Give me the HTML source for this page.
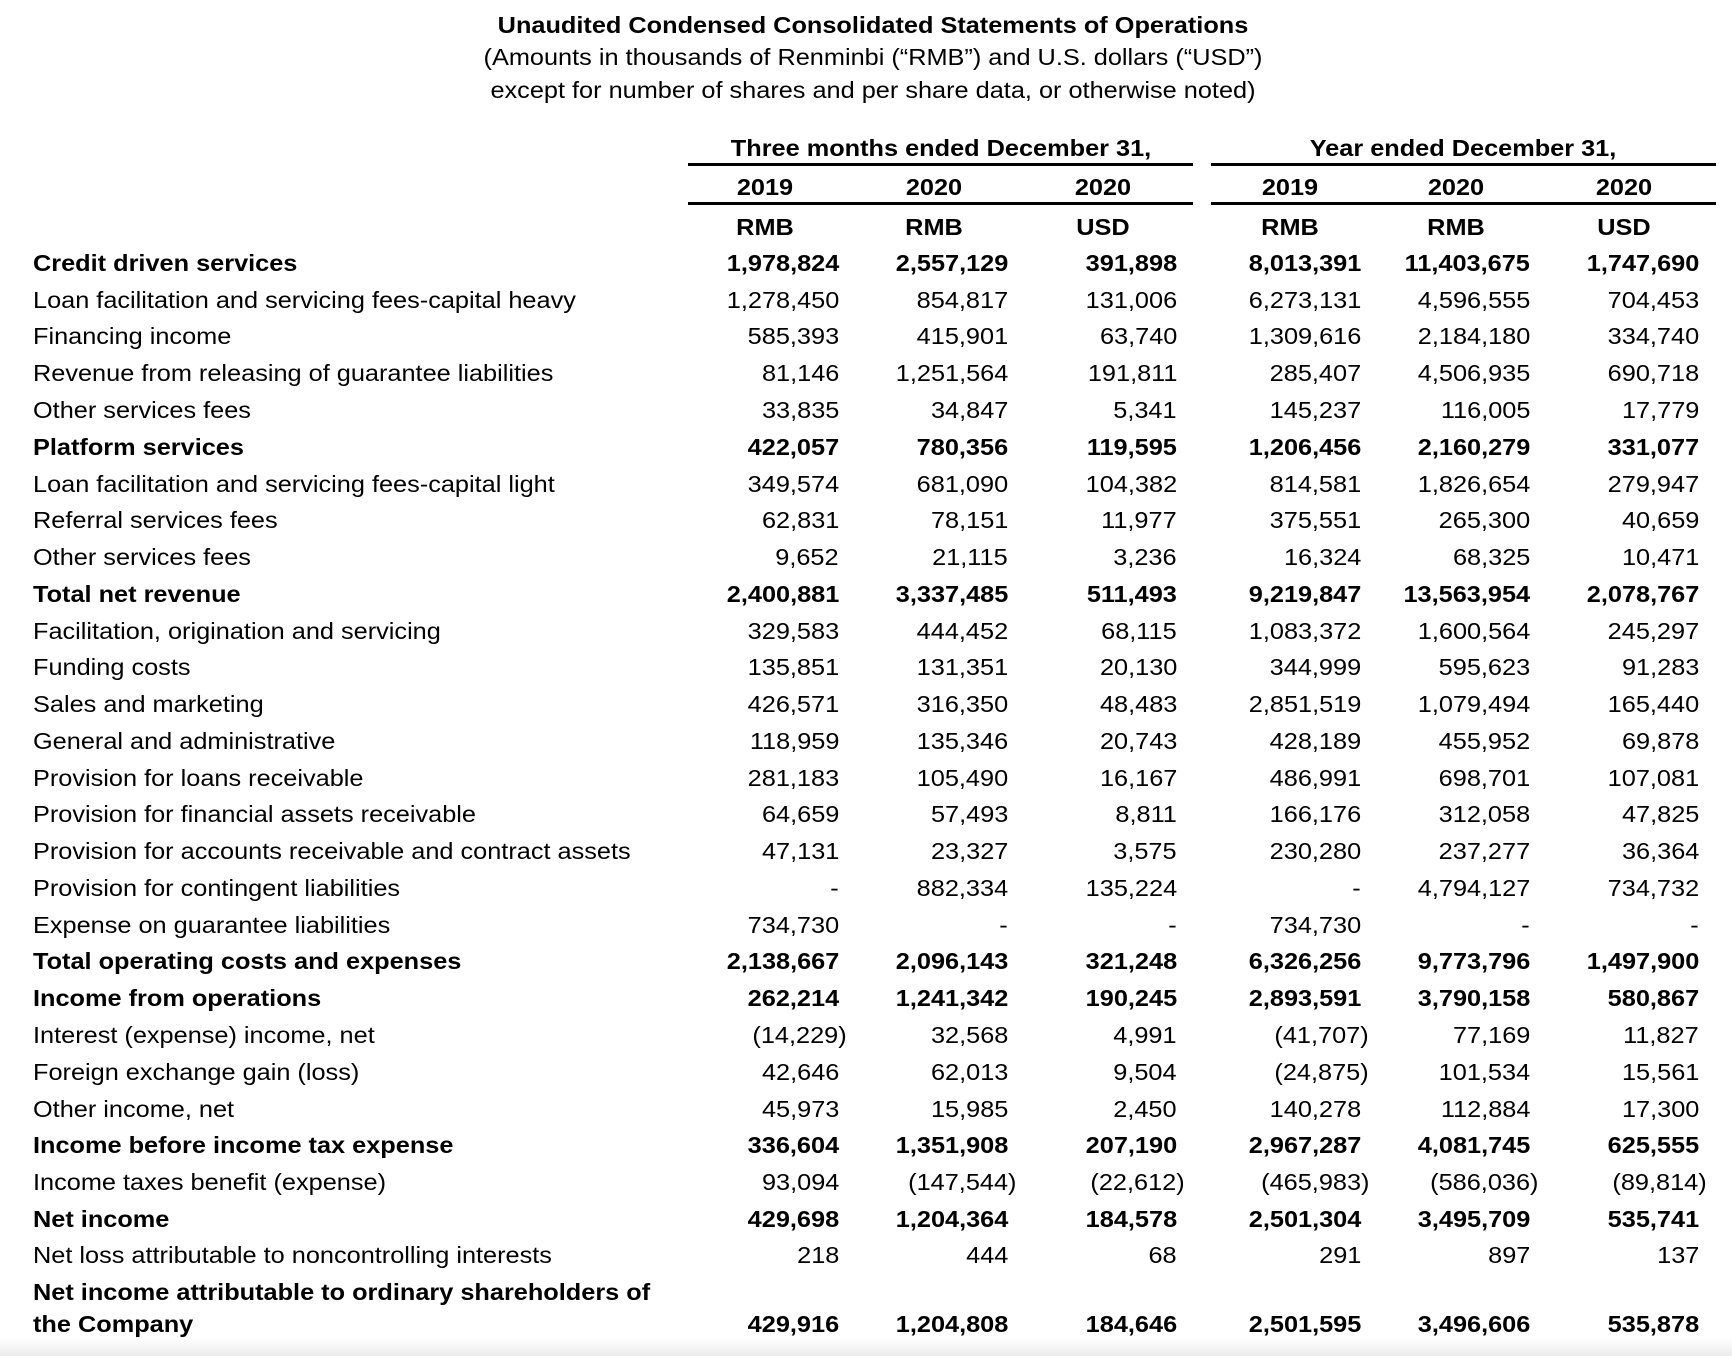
<!DOCTYPE html>
<html><head><meta charset="utf-8"><style>
body{margin:0;width:1732px;height:1356px;background:#fff;position:relative;overflow:hidden;font-family:"Liberation Sans",Arial,sans-serif;color:#000;}
.t{position:absolute;left:0;width:1746px;text-align:center;font-size:23px;line-height:30px;transform:scaleX(1.1);transform-origin:873px 0;}
.r{position:absolute;left:0;width:1732px;height:30px;line-height:30px;font-size:23px;}
.r span{position:absolute;white-space:nowrap;transform:scaleX(1.1);transform-origin:right center;}
.r span.l{transform-origin:left center;}
.l{left:33px;}
.c1{right:893px}.c2{right:724px}.c3{right:555px}.c4{right:371px}.c5{right:202px}.c6{right:33px}
.b{font-weight:bold;}
.p{margin-right:-8px;}
.h{position:absolute;font-size:23px;line-height:30px;font-weight:bold;text-align:center;width:200px;transform:scaleX(1.1);}
.ln{position:absolute;height:2.5px;background:#000;}
.g{position:absolute;left:0;top:1338px;width:1732px;height:18px;background:linear-gradient(#fff,#ececec);}
</style></head><body>
<div class="t b" style="top:10px">Unaudited Condensed Consolidated Statements of Operations</div>
<div class="t" style="top:42px">(Amounts in thousands of Renminbi (“RMB”) and U.S. dollars (“USD”)</div>
<div class="t" style="top:75px">except for number of shares and per share data, or otherwise noted)</div>

<div class="h" style="left:691px;width:500px;top:133px">Three months ended December 31,</div>
<div class="h" style="left:1213px;width:500px;top:133px">Year ended December 31,</div>
<div class="ln" style="left:688px;width:505px;top:163px"></div>
<div class="ln" style="left:1211px;width:505px;top:163px"></div>
<div class="h" style="left:665px;top:172px">2019</div>
<div class="h" style="left:834px;top:172px">2020</div>
<div class="h" style="left:1003px;top:172px">2020</div>
<div class="h" style="left:1190px;top:172px">2019</div>
<div class="h" style="left:1356px;top:172px">2020</div>
<div class="h" style="left:1524px;top:172px">2020</div>
<div class="ln" style="left:688px;width:505px;top:202px"></div>
<div class="ln" style="left:1211px;width:505px;top:202px"></div>
<div class="h" style="left:665px;top:212px">RMB</div>
<div class="h" style="left:834px;top:212px">RMB</div>
<div class="h" style="left:1003px;top:212px">USD</div>
<div class="h" style="left:1190px;top:212px">RMB</div>
<div class="h" style="left:1356px;top:212px">RMB</div>
<div class="h" style="left:1524px;top:212px">USD</div>

<div class="r b" style="top:248px"><span class="l">Credit driven services</span><span class="c1">1,978,824</span><span class="c2">2,557,129</span><span class="c3">391,898</span><span class="c4">8,013,391</span><span class="c5">11,403,675</span><span class="c6">1,747,690</span></div>
<div class="r" style="top:285px"><span class="l">Loan facilitation and servicing fees-capital heavy</span><span class="c1">1,278,450</span><span class="c2">854,817</span><span class="c3">131,006</span><span class="c4">6,273,131</span><span class="c5">4,596,555</span><span class="c6">704,453</span></div>
<div class="r" style="top:321px"><span class="l">Financing income</span><span class="c1">585,393</span><span class="c2">415,901</span><span class="c3">63,740</span><span class="c4">1,309,616</span><span class="c5">2,184,180</span><span class="c6">334,740</span></div>
<div class="r" style="top:358px"><span class="l">Revenue from releasing of guarantee liabilities</span><span class="c1">81,146</span><span class="c2">1,251,564</span><span class="c3">191,811</span><span class="c4">285,407</span><span class="c5">4,506,935</span><span class="c6">690,718</span></div>
<div class="r" style="top:395px"><span class="l">Other services fees</span><span class="c1">33,835</span><span class="c2">34,847</span><span class="c3">5,341</span><span class="c4">145,237</span><span class="c5">116,005</span><span class="c6">17,779</span></div>
<div class="r b" style="top:432px"><span class="l">Platform services</span><span class="c1">422,057</span><span class="c2">780,356</span><span class="c3">119,595</span><span class="c4">1,206,456</span><span class="c5">2,160,279</span><span class="c6">331,077</span></div>
<div class="r" style="top:469px"><span class="l">Loan facilitation and servicing fees-capital light</span><span class="c1">349,574</span><span class="c2">681,090</span><span class="c3">104,382</span><span class="c4">814,581</span><span class="c5">1,826,654</span><span class="c6">279,947</span></div>
<div class="r" style="top:505px"><span class="l">Referral services fees</span><span class="c1">62,831</span><span class="c2">78,151</span><span class="c3">11,977</span><span class="c4">375,551</span><span class="c5">265,300</span><span class="c6">40,659</span></div>
<div class="r" style="top:542px"><span class="l">Other services fees</span><span class="c1">9,652</span><span class="c2">21,115</span><span class="c3">3,236</span><span class="c4">16,324</span><span class="c5">68,325</span><span class="c6">10,471</span></div>
<div class="r b" style="top:579px"><span class="l">Total net revenue</span><span class="c1">2,400,881</span><span class="c2">3,337,485</span><span class="c3">511,493</span><span class="c4">9,219,847</span><span class="c5">13,563,954</span><span class="c6">2,078,767</span></div>
<div class="r" style="top:616px"><span class="l">Facilitation, origination and servicing</span><span class="c1">329,583</span><span class="c2">444,452</span><span class="c3">68,115</span><span class="c4">1,083,372</span><span class="c5">1,600,564</span><span class="c6">245,297</span></div>
<div class="r" style="top:652px"><span class="l">Funding costs</span><span class="c1">135,851</span><span class="c2">131,351</span><span class="c3">20,130</span><span class="c4">344,999</span><span class="c5">595,623</span><span class="c6">91,283</span></div>
<div class="r" style="top:689px"><span class="l">Sales and marketing</span><span class="c1">426,571</span><span class="c2">316,350</span><span class="c3">48,483</span><span class="c4">2,851,519</span><span class="c5">1,079,494</span><span class="c6">165,440</span></div>
<div class="r" style="top:726px"><span class="l">General and administrative</span><span class="c1">118,959</span><span class="c2">135,346</span><span class="c3">20,743</span><span class="c4">428,189</span><span class="c5">455,952</span><span class="c6">69,878</span></div>
<div class="r" style="top:763px"><span class="l">Provision for loans receivable</span><span class="c1">281,183</span><span class="c2">105,490</span><span class="c3">16,167</span><span class="c4">486,991</span><span class="c5">698,701</span><span class="c6">107,081</span></div>
<div class="r" style="top:799px"><span class="l">Provision for financial assets receivable</span><span class="c1">64,659</span><span class="c2">57,493</span><span class="c3">8,811</span><span class="c4">166,176</span><span class="c5">312,058</span><span class="c6">47,825</span></div>
<div class="r" style="top:836px"><span class="l">Provision for accounts receivable and contract assets</span><span class="c1">47,131</span><span class="c2">23,327</span><span class="c3">3,575</span><span class="c4">230,280</span><span class="c5">237,277</span><span class="c6">36,364</span></div>
<div class="r" style="top:873px"><span class="l">Provision for contingent liabilities</span><span class="c1">-</span><span class="c2">882,334</span><span class="c3">135,224</span><span class="c4">-</span><span class="c5">4,794,127</span><span class="c6">734,732</span></div>
<div class="r" style="top:910px"><span class="l">Expense on guarantee liabilities</span><span class="c1">734,730</span><span class="c2">-</span><span class="c3">-</span><span class="c4">734,730</span><span class="c5">-</span><span class="c6">-</span></div>
<div class="r b" style="top:946px"><span class="l">Total operating costs and expenses</span><span class="c1">2,138,667</span><span class="c2">2,096,143</span><span class="c3">321,248</span><span class="c4">6,326,256</span><span class="c5">9,773,796</span><span class="c6">1,497,900</span></div>
<div class="r b" style="top:983px"><span class="l">Income from operations</span><span class="c1">262,214</span><span class="c2">1,241,342</span><span class="c3">190,245</span><span class="c4">2,893,591</span><span class="c5">3,790,158</span><span class="c6">580,867</span></div>
<div class="r" style="top:1020px"><span class="l">Interest (expense) income, net</span><span class="c1 p">(14,229)</span><span class="c2">32,568</span><span class="c3">4,991</span><span class="c4 p">(41,707)</span><span class="c5">77,169</span><span class="c6">11,827</span></div>
<div class="r" style="top:1057px"><span class="l">Foreign exchange gain (loss)</span><span class="c1">42,646</span><span class="c2">62,013</span><span class="c3">9,504</span><span class="c4 p">(24,875)</span><span class="c5">101,534</span><span class="c6">15,561</span></div>
<div class="r" style="top:1094px"><span class="l">Other income, net</span><span class="c1">45,973</span><span class="c2">15,985</span><span class="c3">2,450</span><span class="c4">140,278</span><span class="c5">112,884</span><span class="c6">17,300</span></div>
<div class="r b" style="top:1130px"><span class="l">Income before income tax expense</span><span class="c1">336,604</span><span class="c2">1,351,908</span><span class="c3">207,190</span><span class="c4">2,967,287</span><span class="c5">4,081,745</span><span class="c6">625,555</span></div>
<div class="r" style="top:1167px"><span class="l">Income taxes benefit (expense)</span><span class="c1">93,094</span><span class="c2 p">(147,544)</span><span class="c3 p">(22,612)</span><span class="c4 p">(465,983)</span><span class="c5 p">(586,036)</span><span class="c6 p">(89,814)</span></div>
<div class="r b" style="top:1204px"><span class="l">Net income</span><span class="c1">429,698</span><span class="c2">1,204,364</span><span class="c3">184,578</span><span class="c4">2,501,304</span><span class="c5">3,495,709</span><span class="c6">535,741</span></div>
<div class="r" style="top:1240px"><span class="l">Net loss attributable to noncontrolling interests</span><span class="c1">218</span><span class="c2">444</span><span class="c3">68</span><span class="c4">291</span><span class="c5">897</span><span class="c6">137</span></div>
<div class="r b" style="top:1277px"><span class="l">Net income attributable to ordinary shareholders of</span></div>
<div class="g"></div>
<div class="r b" style="top:1309px"><span class="l">the Company</span><span class="c1">429,916</span><span class="c2">1,204,808</span><span class="c3">184,646</span><span class="c4">2,501,595</span><span class="c5">3,496,606</span><span class="c6">535,878</span></div>
</body></html>
